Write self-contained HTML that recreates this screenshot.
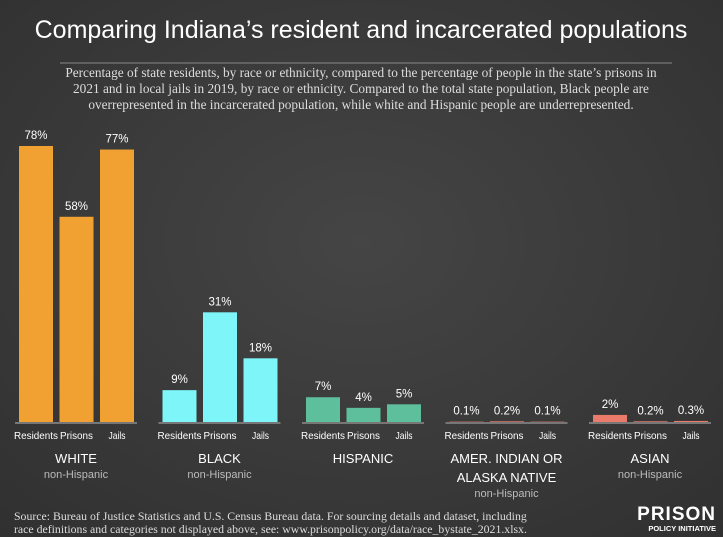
<!DOCTYPE html>
<html><head><meta charset="utf-8"><style>
body{margin:0;width:723px;height:537px;overflow:hidden;background:#3b3b3b;}
svg{display:block}
</style></head><body>
<svg width="723" height="537" id="c">
<defs><radialGradient id="bg" cx="50%" cy="45%" r="75%"><stop offset="0" stop-color="#454545"/><stop offset="1" stop-color="#303030"/></radialGradient></defs>
<rect width="723" height="537" fill="url(#bg)"/>
<text x="361" y="38" text-anchor="middle" fill="#fff" font-family="Liberation Sans, sans-serif" font-size="25">Comparing Indiana’s resident and incarcerated populations</text>
<line x1="60" y1="63" x2="672" y2="63" stroke="#888" stroke-width="1"/>
<g font-family="Liberation Serif, serif" font-size="13.3" fill="#ddd" text-anchor="middle">
<text x="361" y="77">Percentage of state residents, by race or ethnicity, compared to the percentage of people in the state’s prisons in</text>
<text x="361" y="93">2021 and in local jails in 2019, by race or ethnicity. Compared to the total state population, Black people are</text>
<text x="361" y="109">overrepresented in the incarcerated population, while white and Hispanic people are underrepresented.</text>
</g>
<g id="bars"></g>
<g font-family="Liberation Serif, serif" font-size="11.8" fill="#ddd">
<text x="14" y="520">Source: Bureau of Justice Statistics and U.S. Census Bureau data. For sourcing details and dataset, including</text>
<text x="14" y="533">race definitions and categories not displayed above, see: www.prisonpolicy.org/data/race_bystate_2021.xlsx.</text>
</g>
<g font-family="Liberation Sans, sans-serif" fill="#fff" text-anchor="end">
<text x="716" y="520" font-size="19" font-weight="bold" letter-spacing="1">PRISON</text>
<text x="716" y="531" font-size="7.5" font-weight="bold">POLICY INITIATIVE</text>
</g>
</svg>
<script>
const groups=["WHITE","BLACK","HISPANIC","AMER. INDIAN OR|ALASKA NATIVE","ASIAN"];
const subs=["non-Hispanic","non-Hispanic","","non-Hispanic","non-Hispanic"];
const series=["Residents","Prisons","Jails"];
const residents=[78,9,7,0.1,2];
const prisons=[58,31,4,0.2,0.2];
const jails=[77,18,5,0.1,0.3];
const labels=[["78%","58%","77%"],["9%","31%","18%"],["7%","4%","5%"],["0.1%","0.2%","0.1%"],["2%","0.2%","0.3%"]];
const colors=["#f0a131","#7ef6f9","#5ebf9d","#ea7b6a","#ea7b6a"];
const base=422,scale=276/78;
const y=v=>base-v*scale;
const gx=i=>19+i*143.5;
const NS="http://www.w3.org/2000/svg";
const g=document.getElementById('bars');
function mk(tag,at,txt){const e=document.createElementNS(NS,tag);for(const k in at)e.setAttribute(k,at[k]);if(txt!=null)e.textContent=txt;g.appendChild(e);return e;}
groups.forEach((name,i)=>{
  const vals=[residents[i],prisons[i],jails[i]];
  const x0=gx(i);
  const ln=mk('line',{x1:x0-4,x2:x0+118,y1:base+1,y2:base+1,stroke:'#777','stroke-width':2});
  
  
  vals.forEach((v,j)=>{
    const bx=x0+j*40.5;
    const h=Math.max(v*scale,0);
    const r=mk('rect',{x:bx,y:y(v),width:34,height:h,fill:colors[i]});
    
    
    const t=mk('text',{x:bx+17,y:y(v)-7,'text-anchor':'middle',fill:'#fff','font-family':'Liberation Sans, sans-serif','font-size':11.5},labels[i][j]);
    
    
    const c=mk('text',{x:bx+17,y:439,'text-anchor':'middle',fill:'#fff','font-family':'Liberation Sans, sans-serif','font-size':10.3,textLength:series[j]==='Residents'?44:(series[j]==='Prisons'?33:17),lengthAdjust:'spacingAndGlyphs'},series[j]);
    
    
  });
  const cx=x0+57;
  const parts=name.split('|');
  parts.forEach((p,k)=>{
    const t=mk('text',{x:cx,y:463+k*19,'text-anchor':'middle',fill:'#fff','font-family':'Liberation Sans, sans-serif','font-size':13},p);
    
    
  });
  if(subs[i]){
    const s=mk('text',{x:cx,y:478+(parts.length-1)*19,'text-anchor':'middle',fill:'#bbb','font-family':'Liberation Sans, sans-serif','font-size':11},subs[i]);
    
    
  }
});
</script>
</body></html>
